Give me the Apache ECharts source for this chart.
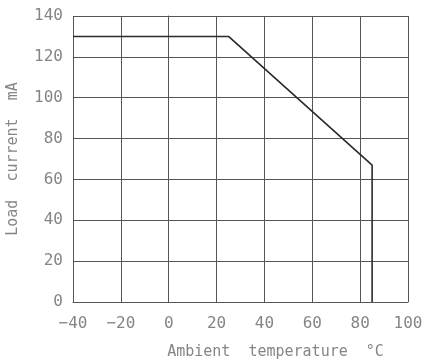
<!DOCTYPE html>
<html>
<head>
<meta charset="utf-8">
<script src="https://cdn.jsdelivr.net/npm/echarts@6/dist/echarts.min.js"></script>
<style>
  html, body { margin: 0; padding: 0; background: #fff; }
  #chart { width: 426px; height: 362px; }
</style>
</head>
<body>
<div id="chart"></div>
<script>
// derating curve: ambient temperature (°C) vs load current (mA)
var temps = [-40, 25, 85, 85]
var currents = [130, 130, 67, 0]

var xTicks = [-40, -20, 0, 20, 40, 60, 80, 100]
var yTicks = [0, 20, 40, 60, 80, 100, 120, 140]

var myChart = echarts.init(document.getElementById('chart'))
var font = 'DejaVu Sans Mono'
var labelStyle = { color: '#858585', fontSize: 16, fontFamily: font }
var gridLine = { show: true, lineStyle: { color: '#555', width: 1 } }

var option = {
  animation: false,
  grid: { left: 73, right: 18, top: 16, bottom: 60, outerBoundsMode: 'none', containLabel: false },
  xAxis: {
    type: 'value',
    min: xTicks[0],
    max: xTicks[xTicks.length - 1],
    interval: 20,
    name: 'Ambient  temperature  °C',
    nameLocation: 'middle',
    nameGap: 43,
    nameTextStyle: { color: '#858585', fontSize: 15, fontFamily: font, padding: [0, 0, 0, 70] },
    axisLine: { show: true, lineStyle: { color: '#555' } },
    axisTick: { show: false },
    axisLabel: Object.assign({
      margin: 14,
      formatter: function (v) { return String(v).replace('-', '\u2212') }
    }, labelStyle),
    splitLine: gridLine
  },
  yAxis: {
    type: 'value',
    min: yTicks[0],
    max: yTicks[yTicks.length - 1],
    interval: 20,
    name: 'Load  current  mA',
    nameLocation: 'middle',
    nameGap: 52,
    nameTextStyle: { color: '#858585', fontSize: 15, fontFamily: font },
    axisLine: { show: true, lineStyle: { color: '#555' } },
    axisTick: { show: false },
    axisLabel: Object.assign({ margin: 10 }, labelStyle),
    splitLine: gridLine
  },
  series: [{
    type: 'line',
    data: temps.map(function (t, i) { return [t, currents[i]] }),
    symbol: 'none',
    lineStyle: { color: '#2a2a2a', width: 1.6 },
    z: 10
  }]
}
myChart.setOption(option)
</script>
</body>
</html>
